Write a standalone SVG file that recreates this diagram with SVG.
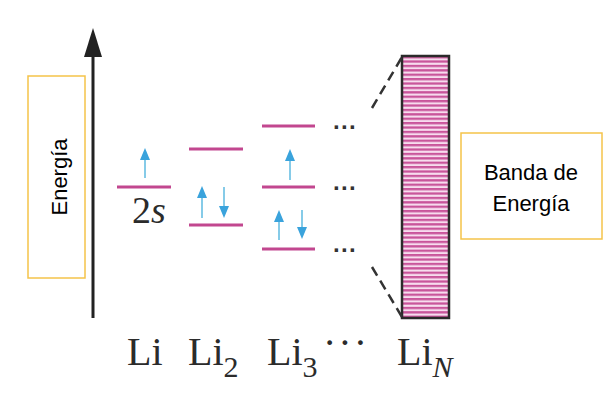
<svg xmlns="http://www.w3.org/2000/svg" width="616" height="400" viewBox="0 0 616 400">
<defs>
<style>
.lvl{stroke:#c2478f;stroke-width:3;}
.stem{stroke:#86cbe8;stroke-width:2;}
.box{fill:#fff;stroke:#f5c34a;stroke-width:1.5;}
.lbl{font-family:"Liberation Sans",Arial,sans-serif;font-size:22px;fill:#000;}
.li{font-family:"Liberation Serif","Times New Roman",serif;font-size:40px;fill:#2b2b2b;}
.sub{font-family:"Liberation Serif","Times New Roman",serif;font-size:30px;fill:#2b2b2b;}
.dots{font-family:"Liberation Sans",Arial,sans-serif;font-size:24px;font-weight:bold;fill:#333;}
.dash{stroke:#333;stroke-width:2.5;stroke-dasharray:10 6;fill:none;}
</style>
<pattern id="stripes" patternUnits="userSpaceOnUse" x="0" y="56" width="50" height="4.4">
<rect x="0" y="0" width="50" height="4.4" fill="#f7dcee"/>
<rect x="0" y="0" width="50" height="2.3" fill="#c9559b"/>
</pattern>
</defs>
<rect width="616" height="400" fill="#fff"/>

<g id="axis">
<line x1="93" y1="318" x2="93" y2="52" stroke="#222" stroke-width="3"/>
<polygon points="93,28 84,57 102,57" fill="#222"/>
</g>

<g id="energia-label">
<rect class="box" x="28" y="76" width="57" height="202"/>
<text class="lbl" transform="translate(67,177) rotate(-90)" text-anchor="middle">Energía</text>
</g>

<g id="li">
<line class="lvl" x1="117" y1="187" x2="171" y2="187"/>
<line class="stem" x1="145" y1="178" x2="145" y2="158"/>
<polygon points="145,148 140,160 150,160" fill="#3aa3dc"/>
<text x="132" y="223" font-family="'Liberation Serif','Times New Roman',serif" font-size="38" fill="#2b2b2b">2<tspan font-style="italic">s</tspan></text>
</g>

<g id="li2">
<line class="lvl" x1="189" y1="149" x2="243" y2="149"/>
<line class="lvl" x1="189" y1="225" x2="243" y2="225"/>
<line class="stem" x1="202" y1="218" x2="202" y2="196"/>
<polygon points="202,186 197,198 207,198" fill="#3aa3dc"/>
<line class="stem" x1="224" y1="187" x2="224" y2="208"/>
<polygon points="224,218 219,206 229,206" fill="#3aa3dc"/>
</g>

<g id="li3">
<line class="lvl" x1="262" y1="126" x2="315" y2="126"/>
<line class="lvl" x1="262" y1="187" x2="315" y2="187"/>
<line class="lvl" x1="262" y1="249" x2="315" y2="249"/>
<line class="stem" x1="290" y1="180" x2="290" y2="159"/>
<polygon points="290,149 285,161 295,161" fill="#3aa3dc"/>
<line class="stem" x1="279" y1="240" x2="279" y2="220"/>
<polygon points="279,210 274,222 284,222" fill="#3aa3dc"/>
<line class="stem" x1="302" y1="210" x2="302" y2="229"/>
<polygon points="302,239 297,227 307,227" fill="#3aa3dc"/>
<text class="dots" x="333" y="135">···</text>
<text class="dots" x="333" y="196">···</text>
<text class="dots" x="333" y="258">···</text>
</g>

<g id="band">
<rect x="402" y="56" width="47" height="262" fill="url(#stripes)" stroke="#2a2a2a" stroke-width="2.5"/>
</g>

<g id="connectors">
<line class="dash" x1="372" y1="108" x2="402" y2="57"/>
<line class="dash" x1="372" y1="267" x2="402" y2="317"/>
</g>

<g id="banda-label">
<rect class="box" x="461" y="133" width="141" height="106"/>
<text class="lbl" x="531" y="180" text-anchor="middle">Banda de</text>
<text class="lbl" x="531" y="211" text-anchor="middle">Energía</text>
</g>

<g id="labels">
<text class="li" x="127" y="365">Li</text>
<text class="li" x="188" y="365">Li<tspan class="sub" dy="12">2</tspan></text>
<text class="li" x="267" y="365">Li<tspan class="sub" dy="12">3</tspan></text>
<text class="li" x="323" y="356" font-size="30" letter-spacing="2">···</text>
<text class="li" x="397" y="365">Li<tspan class="sub" dy="12" font-style="italic">N</tspan></text>
</g>
</svg>
